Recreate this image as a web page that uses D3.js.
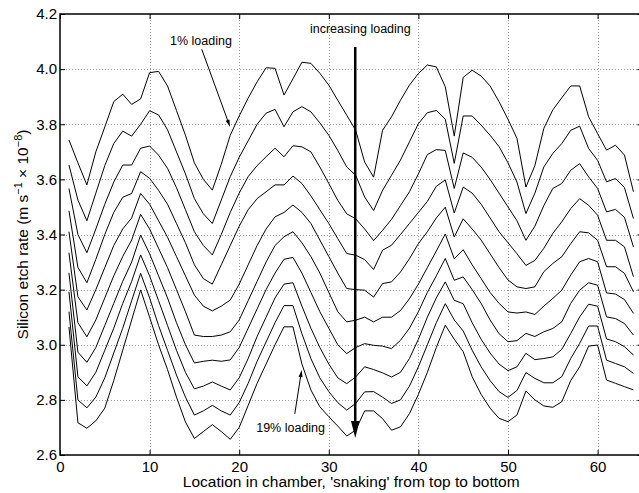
<!DOCTYPE html>
<html><head><meta charset="utf-8">
<script src="https://cdn.jsdelivr.net/npm/d3@7"></script>
<style>
body{margin:0;background:#fff}
svg{display:block}
text{font-family:"Liberation Sans",Arial,Helvetica,sans-serif;fill:#000}
</style>
</head><body>
<svg id="chart" width="639" height="493"></svg>
<script>
// ---- data (etch rate, 1e-8 m/s) at chamber locations 1..64 ----
const xTicks = [0, 10, 20, 30, 40, 50, 60];
const yTicks = [2.6, 2.8, 3.0, 3.2, 3.4, 3.6, 3.8, 4.0, 4.2];
const loadingLabels = ["1% loading", "19% loading"];

const load1 = [3.743,3.66,3.58,3.70,3.79,3.882,3.909,3.872,3.892,3.987,3.992,3.939,3.85,3.76,3.66,3.60,3.561,3.655,3.76,3.83,3.895,3.954,4.005,4.003,3.906,3.965,4.025,4.021,3.985,3.942,3.887,3.833,3.778,3.663,3.608,3.778,3.827,3.887,3.942,3.984,4.015,4.008,3.936,3.757,3.97,3.996,3.975,3.939,3.882,3.818,3.749,3.572,3.65,3.785,3.852,3.896,3.939,3.939,3.827,3.766,3.706,3.724,3.688,3.555];
const load2 = [3.652,3.525,3.45,3.55,3.65,3.73,3.775,3.757,3.80,3.849,3.834,3.78,3.70,3.62,3.53,3.475,3.44,3.525,3.61,3.68,3.74,3.80,3.84,3.854,3.791,3.845,3.864,3.845,3.805,3.76,3.705,3.645,3.615,3.536,3.487,3.56,3.615,3.67,3.736,3.802,3.842,3.85,3.818,3.658,3.83,3.83,3.797,3.76,3.719,3.66,3.59,3.476,3.55,3.645,3.694,3.73,3.778,3.793,3.712,3.669,3.591,3.603,3.570,3.458];
const load3 = [3.567,3.40,3.334,3.42,3.51,3.59,3.652,3.652,3.713,3.721,3.688,3.64,3.57,3.49,3.41,3.36,3.326,3.40,3.48,3.55,3.61,3.65,3.682,3.713,3.682,3.722,3.718,3.70,3.645,3.585,3.524,3.475,3.457,3.42,3.378,3.415,3.455,3.505,3.555,3.62,3.69,3.708,3.705,3.567,3.696,3.68,3.645,3.60,3.55,3.50,3.45,3.379,3.43,3.505,3.567,3.585,3.633,3.657,3.609,3.567,3.482,3.491,3.462,3.355];
const load4 = [3.486,3.281,3.225,3.31,3.40,3.48,3.535,3.549,3.628,3.604,3.56,3.51,3.44,3.37,3.29,3.24,3.22,3.29,3.36,3.43,3.49,3.53,3.555,3.58,3.58,3.612,3.585,3.54,3.49,3.44,3.385,3.331,3.325,3.309,3.273,3.343,3.361,3.40,3.44,3.48,3.52,3.575,3.598,3.478,3.572,3.55,3.51,3.46,3.41,3.37,3.33,3.288,3.306,3.35,3.404,3.446,3.494,3.53,3.506,3.47,3.379,3.379,3.355,3.247];
const load5 = [3.41,3.174,3.126,3.20,3.28,3.36,3.42,3.46,3.549,3.51,3.45,3.39,3.32,3.25,3.18,3.14,3.123,3.14,3.162,3.22,3.29,3.36,3.42,3.464,3.48,3.507,3.48,3.44,3.38,3.32,3.26,3.204,3.20,3.198,3.173,3.222,3.228,3.264,3.312,3.367,3.41,3.46,3.499,3.391,3.457,3.42,3.38,3.33,3.28,3.235,3.21,3.204,3.21,3.265,3.295,3.319,3.367,3.41,3.406,3.379,3.283,3.283,3.259,3.192];
const load6 = [3.334,3.08,3.029,3.09,3.17,3.25,3.32,3.38,3.473,3.42,3.35,3.28,3.20,3.12,3.035,3.03,3.03,3.035,3.047,3.09,3.16,3.23,3.30,3.36,3.392,3.41,3.37,3.32,3.26,3.19,3.12,3.083,3.089,3.10,3.083,3.10,3.10,3.124,3.167,3.22,3.28,3.34,3.402,3.312,3.345,3.29,3.24,3.19,3.15,3.119,3.115,3.119,3.11,3.14,3.168,3.198,3.253,3.301,3.313,3.301,3.188,3.184,3.164,3.114];
const load7 = [3.261,2.973,2.936,2.99,3.07,3.15,3.23,3.30,3.398,3.33,3.25,3.17,3.08,3.00,2.934,2.94,2.944,2.94,2.945,2.99,3.06,3.13,3.20,3.26,3.31,3.317,3.26,3.19,3.12,3.06,3.00,2.968,2.99,3.004,2.998,2.995,2.986,3.016,3.06,3.12,3.19,3.25,3.313,3.234,3.246,3.20,3.15,3.09,3.04,3.011,3.015,3.041,3.03,3.047,3.059,3.083,3.15,3.198,3.225,3.216,3.101,3.095,3.077,3.035];
const load8 = [3.192,2.884,2.851,2.90,2.98,3.06,3.15,3.23,3.326,3.25,3.16,3.07,2.98,2.90,2.84,2.85,2.865,2.85,2.836,2.88,2.95,3.03,3.10,3.17,3.22,3.225,3.14,3.06,2.99,2.93,2.88,2.859,2.883,2.92,2.91,2.898,2.883,2.90,2.95,3.02,3.10,3.17,3.228,3.161,3.149,3.08,3.02,2.97,2.93,2.906,2.92,2.969,2.946,2.95,2.956,2.983,3.041,3.101,3.147,3.14,3.021,3.011,2.993,2.963];
const load9 = [3.12,2.80,2.771,2.81,2.88,2.97,3.06,3.16,3.259,3.17,3.07,2.98,2.89,2.81,2.745,2.76,2.78,2.76,2.745,2.79,2.86,2.94,3.01,3.08,3.142,3.142,3.04,2.95,2.88,2.83,2.79,2.763,2.787,2.829,2.83,2.81,2.787,2.80,2.85,2.92,3.00,3.08,3.149,3.09,3.05,2.98,2.92,2.87,2.83,2.809,2.834,2.899,2.878,2.862,2.862,2.884,2.95,3.005,3.068,3.068,2.944,2.932,2.92,2.896];
const load10 = [3.065,2.717,2.697,2.724,2.77,2.87,2.98,3.09,3.199,3.10,3.00,2.91,2.81,2.72,2.66,2.685,2.71,2.685,2.657,2.70,2.78,2.86,2.93,3.00,3.065,3.065,2.93,2.836,2.775,2.739,2.705,2.669,2.69,2.76,2.76,2.732,2.69,2.702,2.75,2.82,2.90,2.99,3.071,3.02,2.975,2.884,2.82,2.77,2.733,2.721,2.745,2.832,2.80,2.778,2.773,2.793,2.87,2.92,2.995,2.999,2.872,2.86,2.848,2.836];

const seriesList = [load1, load2, load3, load4, load5, load6, load7, load8, load9, load10];

// ---- layout ----
const svg = d3.select("#chart");
const L = 60, T = 14, R = 642.4, B = 455;
const x = d3.scaleLinear().domain([0, 65]).range([L, R]);
const y = d3.scaleLinear().domain([2.6, 4.2]).range([B, T]);
const font = '"Liberation Sans",Arial,Helvetica,sans-serif';

// grid
const grid = svg.append("g").attr("stroke", "#a0a0a0").attr("stroke-width", 1).attr("stroke-dasharray", "1,2");
grid.selectAll("line.gx").data(xTicks.slice(1)).join("line")
  .attr("x1", d => Math.round(x(d)) + 0.5).attr("x2", d => Math.round(x(d)) + 0.5)
  .attr("y1", T).attr("y2", B);
grid.selectAll("line.gy").data(yTicks.slice(1, -1)).join("line")
  .attr("y1", d => Math.round(y(d)) + 0.5).attr("y2", d => Math.round(y(d)) + 0.5)
  .attr("x1", L).attr("x2", R);

// lines
const line = d3.line().x((d, i) => x(i + 1)).y(d => y(d));
svg.append("g").selectAll("path").data(seriesList).join("path")
  .attr("d", line).attr("fill", "none").attr("stroke", "#000").attr("stroke-width", 1)
  .attr("stroke-linejoin", "miter");

// axes (ticks inward)
const ax = (g) => { g.select(".domain").remove(); g.selectAll(".tick line").attr("stroke", "#000"); g.selectAll("text").attr("font-family", font).attr("font-size", 15).attr("fill", "#000"); };
svg.append("g").attr("transform", `translate(0,${B})`)
  .call(d3.axisBottom(x).tickValues(xTicks).tickSizeInner(-5).tickSizeOuter(0).tickPadding(6).tickFormat(d3.format("d"))).call(ax);
svg.append("g").attr("transform", `translate(0,${T})`)
  .call(d3.axisTop(x).tickValues(xTicks).tickSizeInner(-5).tickSizeOuter(0).tickFormat("")).call(ax);
svg.append("g").attr("transform", `translate(${L},0)`)
  .call(d3.axisLeft(y).tickValues(yTicks).tickSizeInner(-5).tickSizeOuter(0).tickPadding(3).tickFormat(d3.format(".1f"))).call(ax);
svg.append("g").attr("transform", `translate(${R},0)`)
  .call(d3.axisRight(y).tickValues(yTicks).tickSizeInner(-5).tickSizeOuter(0).tickFormat("")).call(ax);

// frame
svg.append("rect").attr("x", L).attr("y", T).attr("width", R - L).attr("height", B - T)
  .attr("fill", "none").attr("stroke", "#000").attr("stroke-width", 1.5);

// axis titles
svg.append("text").attr("x", (L + R) / 2).attr("y", 487).attr("text-anchor", "middle")
  .attr("font-size", 15.5).text("Location in chamber, 'snaking' from top to bottom");
const yl = svg.append("text").attr("transform", `translate(27.5,${(T + B) / 2}) rotate(-90)`)
  .attr("text-anchor", "middle").attr("font-size", 15.5);
yl.append("tspan").text("Silicon etch rate (m s");
yl.append("tspan").attr("dy", -6).attr("font-size", 11).text("\u22121");
yl.append("tspan").attr("dy", 6).text(" \u00d7 10");
yl.append("tspan").attr("dy", -6).attr("font-size", 11).text("\u22128");
yl.append("tspan").attr("dy", 6).text(")");

// annotations
const ann = svg.append("g");
ann.append("text").attr("x", x(12.28)).attr("y", y(4.087)).attr("font-size", 12.5).text(loadingLabels[0]);
ann.append("text").attr("x", x(27.9)).attr("y", y(4.131)).attr("font-size", 12.5).text("increasing loading");
ann.append("text").attr("x", x(21.9)).attr("y", y(2.683)).attr("font-size", 12.5).text(loadingLabels[1]);

function arrow(x1, y1, x2, y2, w, headL, headW) {
  const dx = x2 - x1, dy = y2 - y1, len = Math.hypot(dx, dy);
  const ux = dx / len, uy = dy / len;
  const bx = x2 - ux * headL, by = y2 - uy * headL;
  ann.append("line").attr("x1", x1).attr("y1", y1).attr("x2", bx + ux).attr("y2", by + uy)
    .attr("stroke", "#000").attr("stroke-width", w);
  ann.append("path").attr("d", `M${x2},${y2}L${bx - uy * headW / 2},${by + ux * headW / 2}L${bx + uy * headW / 2},${by - ux * headW / 2}Z`)
    .attr("fill", "#000");
}
arrow(x(15.82), y(4.072), x(18.97), y(3.791), 1, 7, 4);
arrow(x(26.2), y(2.749), x(26.97), y(2.908), 1, 7, 4);
arrow(x(32.95), y(4.08), x(32.95), y(2.662), 2.5, 17, 8.5);
</script>
</body></html>
